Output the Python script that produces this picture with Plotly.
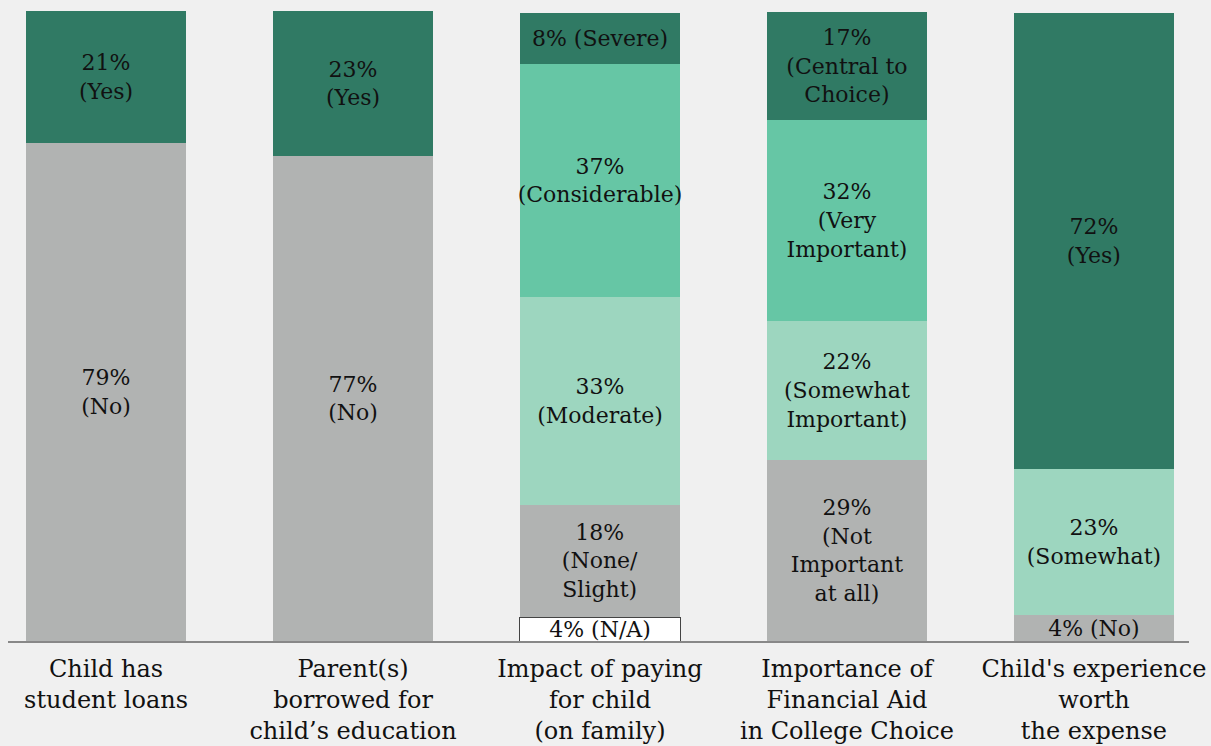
import plotly.graph_objects as go

categories = [
    "Child has<br>student loans",
    "Parent(s)<br>borrowed for<br>child’s education",
    "Impact of paying<br>for child<br>(on family)",
    "Importance of<br>Financial Aid<br>in College Choice",
    "Child's experience<br>worth<br>the expense",
]

# values per bar, bottom to top (percent)
loans_values = [79.0, 21.0]
loans_labels = ["79%<br>(No)", "21%<br>(Yes)"]
loans_colors = ["gray", "dark"]

borrowed_values = [77.0, 23.0]
borrowed_labels = ["77%<br>(No)", "23%<br>(Yes)"]
borrowed_colors = ["gray", "dark"]

impact_values = [3.8, 17.8, 33.0, 37.0, 8.1]
impact_labels = ["4% (N/A)", "18%<br>(None/<br>Slight)", "33%<br>(Moderate)",
                 "37%<br>(Considerable)", "8% (Severe)"]
impact_colors = ["white", "gray", "light", "medium", "dark"]

aid_values = [28.7, 22.1, 31.9, 17.1]
aid_labels = ["29%<br>(Not<br>Important<br>at all)", "22%<br>(Somewhat<br>Important)",
              "32%<br>(Very<br>Important)", "17%<br>(Central to<br>Choice)"]
aid_colors = ["gray", "light", "medium", "dark"]

worth_values = [4.1, 23.2, 72.4]
worth_labels = ["4% (No)", "23%<br>(Somewhat)", "72%<br>(Yes)"]
worth_colors = ["gray", "light", "dark"]

palette = {
    "dark": "#307a64",
    "medium": "#66c6a5",
    "light": "#9dd6bf",
    "gray": "#b1b3b2",
    "white": "#ffffff",
}

FONT = "DejaVu Serif"
FS_BAR = 22
FS_TICK = 24

bars = [
    (loans_values, loans_labels, loans_colors),
    (borrowed_values, borrowed_labels, borrowed_colors),
    (impact_values, impact_labels, impact_colors),
    (aid_values, aid_labels, aid_colors),
    (worth_values, worth_labels, worth_colors),
]

fig = go.Figure()
for cat, (vals, labs, cols) in zip(categories, bars):
    for v, lab, c in zip(vals, labs, cols):
        fig.add_trace(go.Bar(
            x=[cat], y=[v], text=[lab],
            textposition="inside", insidetextanchor="middle",
            textangle=0, constraintext="none",
            textfont=dict(family=FONT, size=FS_BAR, color="#111111"),
            marker=dict(color=palette[c],
                        line=dict(color="#444444" if c == "white" else palette[c],
                                  width=1 if c == "white" else 0)),
            width=0.648, showlegend=False, hoverinfo="skip",
        ))

fig.update_layout(
    barmode="stack",
    width=1211, height=746,
    margin=dict(l=8, r=22, t=11, b=105, autoexpand=False),
    paper_bgcolor="#f0f0f0",
    plot_bgcolor="#f0f0f0",
    uniformtext=dict(minsize=FS_BAR, mode="show"),
    xaxis=dict(
        type="category",
        range=[-0.397, 4.385],
        automargin=False,
        showline=True, linecolor="#888888", linewidth=2,
        showgrid=False, ticks="",
        ticklabelstandoff=5,
        tickfont=dict(family=FONT, size=FS_TICK, color="#111111"),
    ),
    yaxis=dict(range=[0, 100], visible=False, showgrid=False, zeroline=False,
               automargin=False),
)

fig.write_html("out.html")
